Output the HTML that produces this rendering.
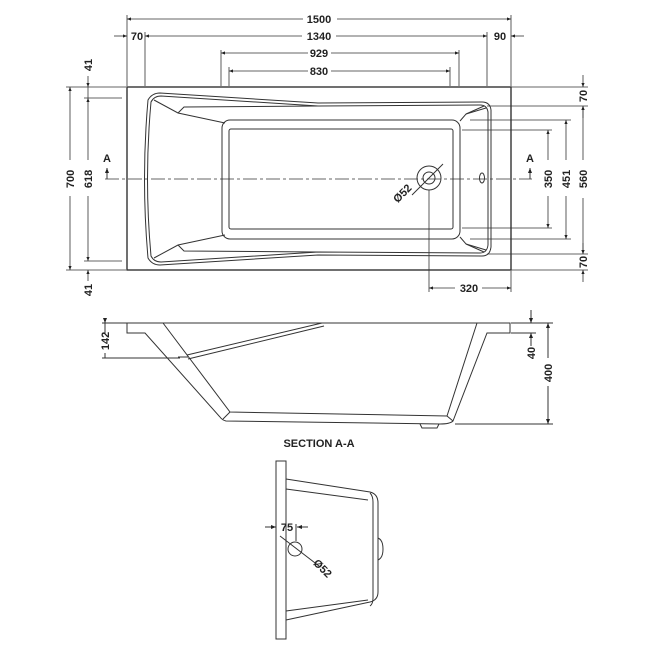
<!DOCTYPE html>
<html><head><meta charset="utf-8"><style>
html,body{margin:0;padding:0;background:#fff;}
svg{display:block;}
text{font-family:"Liberation Sans",sans-serif;font-weight:bold;font-size:11px;fill:#222;}
</style></head><body>
<svg width="650" height="650" viewBox="0 0 650 650" xmlns="http://www.w3.org/2000/svg">
<defs>
<marker id="a" viewBox="0 0 10 10" refX="10" refY="5" markerWidth="5" markerHeight="5" orient="auto-start-reverse"><path d="M0,1 L10,5 L0,9 z" fill="#222"/></marker>
</defs>
<g stroke="#333" stroke-width="0.8" fill="none">
<!-- extension lines top -->
<line x1="127" y1="15" x2="127" y2="86"/><line x1="511" y1="15" x2="511" y2="86"/>
<line x1="145" y1="32" x2="145" y2="86"/><line x1="487" y1="32" x2="487" y2="86"/>
<line x1="221" y1="50" x2="221" y2="86"/><line x1="459" y1="50" x2="459" y2="86"/>
<line x1="229" y1="67" x2="229" y2="86"/><line x1="450" y1="67" x2="450" y2="86"/>
<!-- dims top -->
<line x1="127" y1="19" x2="303" y2="19" marker-start="url(#a)"/><line x1="337" y1="19" x2="511" y2="19" marker-end="url(#a)"/>
<line x1="114" y1="36" x2="127" y2="36" marker-end="url(#a)"/><line x1="145" y1="36" x2="302" y2="36" marker-start="url(#a)"/>
<line x1="336" y1="36" x2="487" y2="36" marker-end="url(#a)"/><line x1="511" y1="36" x2="524" y2="36" marker-start="url(#a)"/>
<line x1="221" y1="53" x2="308" y2="53" marker-start="url(#a)"/><line x1="331" y1="53" x2="459" y2="53" marker-end="url(#a)"/>
<line x1="229" y1="71" x2="308" y2="71" marker-start="url(#a)"/><line x1="331" y1="71" x2="450" y2="71" marker-end="url(#a)"/>
<!-- left dims -->
<line x1="66" y1="87" x2="126" y2="87"/><line x1="66" y1="270" x2="126" y2="270"/>
<line x1="84" y1="98" x2="122" y2="98"/><line x1="84" y1="261" x2="122" y2="261"/>
<line x1="70" y1="87" x2="70" y2="160" marker-start="url(#a)"/><line x1="70" y1="196" x2="70" y2="270" marker-end="url(#a)"/>
<line x1="88" y1="98" x2="88" y2="160" marker-start="url(#a)"/><line x1="88" y1="196" x2="88" y2="261" marker-end="url(#a)"/>
<line x1="88" y1="76" x2="88" y2="87" marker-end="url(#a)"/><line x1="88" y1="98" x2="88" y2="86"/>
<line x1="88" y1="281" x2="88" y2="270" marker-end="url(#a)"/>
<!-- right dims -->
<line x1="511" y1="87" x2="588" y2="87"/><line x1="487" y1="106" x2="588" y2="106"/>
<line x1="470" y1="120" x2="571" y2="120"/><line x1="462" y1="130" x2="552" y2="130"/>
<line x1="462" y1="228" x2="552" y2="228"/><line x1="470" y1="239" x2="571" y2="239"/>
<line x1="487" y1="254" x2="588" y2="254"/><line x1="511" y1="270" x2="588" y2="270"/>
<line x1="583" y1="75" x2="583" y2="87" marker-end="url(#a)"/>
<line x1="583" y1="118" x2="583" y2="106" marker-end="url(#a)"/>
<line x1="583" y1="106" x2="583" y2="160" marker-start="url(#a)"/><line x1="583" y1="198" x2="583" y2="254" marker-end="url(#a)"/>
<line x1="583" y1="243" x2="583" y2="254" marker-end="url(#a)"/>
<line x1="583" y1="282" x2="583" y2="270" marker-end="url(#a)"/>
<line x1="566" y1="120" x2="566" y2="160" marker-start="url(#a)"/><line x1="566" y1="196" x2="566" y2="239" marker-end="url(#a)"/>
<line x1="548" y1="130" x2="548" y2="160" marker-start="url(#a)"/><line x1="548" y1="196" x2="548" y2="228" marker-end="url(#a)"/>
<!-- 320 -->
<line x1="429" y1="190" x2="429" y2="292"/>
<line x1="429" y1="288" x2="455" y2="288" marker-start="url(#a)"/><line x1="482" y1="288" x2="511" y2="288" marker-end="url(#a)"/>
<line x1="511" y1="271" x2="511" y2="292"/>
</g>
<!-- plan body -->
<g stroke="#333" stroke-width="1" fill="none">
<rect x="127" y="87" width="384" height="183" stroke-width="1.4"/>
<path d="M160,93 L318,103 L482,102 Q490,102 491,110 L491,247 Q490,256 482,256 L318,255 L160,265 Q152,265 148,258 Q141,179 148,100 Q152,93 160,93 Z"/>
<path d="M161,96 L318,106 L480,105 Q487,105 488,112 L488,245 Q487,253 480,253 L318,252 L161,262 Q154,262 151,256 Q144,179 151,102 Q154,96 161,96 Z"/>
<path d="M154,100 L178,113 L225,123"/>
<path d="M178,113 L184,107 L318,106"/>
<path d="M154,258 L178,245 L225,235"/>
<path d="M178,245 L184,251 L318,252"/>
<path d="M486,108 L466,114 L460,121"/><path d="M466,114 L484,106"/>
<path d="M486,250 L466,244 L460,237"/><path d="M466,244 L484,252"/>
<rect x="222" y="120" width="238" height="119" rx="8"/>
<rect x="229" y="129" width="224" height="100" rx="2"/>
<circle cx="429" cy="178" r="12"/><circle cx="429" cy="178" r="6"/>
<ellipse cx="482" cy="178" rx="2.5" ry="5"/>
<line x1="412" y1="195" x2="443" y2="164"/>
<line x1="105" y1="179" x2="532" y2="179" stroke-dasharray="14,3,3,3" stroke-width="0.8"/>
<line x1="107" y1="179" x2="107" y2="168" marker-end="url(#a)"/>
<line x1="530" y1="179" x2="530" y2="168" marker-end="url(#a)"/>
</g>
<text x="319" y="23" text-anchor="middle">1500</text>
<text x="137" y="40" text-anchor="middle">70</text>
<text x="319" y="40" text-anchor="middle">1340</text>
<text x="500" y="40" text-anchor="middle">90</text>
<text x="319" y="57" text-anchor="middle">929</text>
<text x="319" y="75" text-anchor="middle">830</text>
<text x="107" y="162" text-anchor="middle" font-size="10">A</text>
<text x="530" y="162" text-anchor="middle" font-size="10">A</text>
<text x="469" y="292" text-anchor="middle">320</text>
<text transform="translate(74,179) rotate(-90)" text-anchor="middle">700</text>
<text transform="translate(92,179) rotate(-90)" text-anchor="middle">618</text>
<text transform="translate(92,65) rotate(-90)" text-anchor="middle">41</text>
<text transform="translate(92,290) rotate(-90)" text-anchor="middle">41</text>
<text transform="translate(587,96) rotate(-90)" text-anchor="middle">70</text>
<text transform="translate(587,179) rotate(-90)" text-anchor="middle">560</text>
<text transform="translate(570,179) rotate(-90)" text-anchor="middle">451</text>
<text transform="translate(552,179) rotate(-90)" text-anchor="middle">350</text>
<text transform="translate(587,262) rotate(-90)" text-anchor="middle">70</text>
<text transform="translate(405,196) rotate(-45)" text-anchor="middle">Ø52</text>
<!-- side section -->
<g stroke="#333" stroke-width="1" fill="none">
<path d="M127,323 L510,323 L510,333 L487,333 L453,421 Q450,424 440,424 L226,421 Q222,420 220,417 L145,333 L127,333 Z"/>
<path d="M163,323 L230,412 L447,416 L477,323"/>
<line x1="230" y1="412" x2="223" y2="419"/><line x1="447" y1="416" x2="453" y2="421"/>
<path d="M187,355 L322,323"/><path d="M188,359 L324,326"/><line x1="178" y1="357" x2="188" y2="357"/>
<path d="M420,424 L422,428 L437,428 L439,424"/>
<line x1="102" y1="323" x2="127" y2="323"/><line x1="102" y1="358" x2="180" y2="358"/>
<line x1="105" y1="323" x2="105" y2="333"/><line x1="105" y1="358" x2="105" y2="353"/>
<line x1="511" y1="333" x2="536" y2="333"/><line x1="511" y1="323" x2="553" y2="323"/>
<line x1="455" y1="424" x2="553" y2="424"/>
<line x1="531" y1="310" x2="531" y2="323" marker-end="url(#a)"/>
<line x1="531" y1="346" x2="531" y2="333" marker-end="url(#a)"/>
<line x1="548" y1="323" x2="548" y2="358" marker-start="url(#a)"/><line x1="548" y1="386" x2="548" y2="424" marker-end="url(#a)"/>
</g>
<line x1="105" y1="320" x2="105" y2="323" stroke="#333" marker-end="url(#a)"/>
<text transform="translate(109,341) rotate(-90)" text-anchor="middle">142</text>
<text transform="translate(535,353) rotate(-90)" text-anchor="middle">40</text>
<text transform="translate(552,373) rotate(-90)" text-anchor="middle">400</text>
<text x="319" y="447" text-anchor="middle">SECTION A-A</text>
<!-- end view -->
<g stroke="#333" stroke-width="1" fill="none">
<rect x="276" y="461" width="10" height="178"/>
<path d="M286,479 L370,492 Q378,494 378,503 L378,592 Q378,600 370,602 L286,620"/>
<path d="M286,489 L368,500"/><path d="M286,611 L368,600"/>
<path d="M370,493 Q373,496 373,502 L373,598 Q373,604 370,606"/>
<path d="M378,538 Q383,540 383,549 Q383,558 378,560"/>
<circle cx="295" cy="549" r="7"/>
<line x1="280" y1="536" x2="319" y2="566"/>
<line x1="265" y1="527" x2="276" y2="527" marker-end="url(#a)"/>
<line x1="308" y1="527" x2="297" y2="527" marker-end="url(#a)"/>
<line x1="296" y1="524" x2="296" y2="541"/>
</g>
<text x="287" y="531" text-anchor="middle">75</text>
<text transform="translate(320,571) rotate(45)" text-anchor="middle">Ø52</text>
</svg>
</body></html>
